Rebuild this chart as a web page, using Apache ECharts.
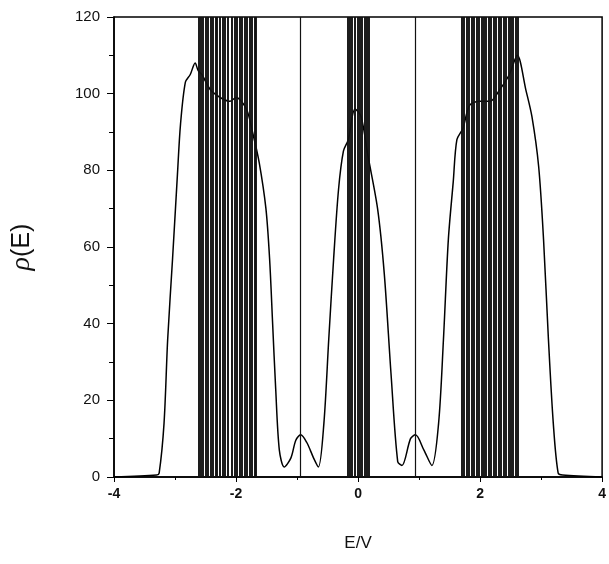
<!DOCTYPE html>
<html>
<head>
<meta charset="utf-8">
<script src="https://cdn.jsdelivr.net/npm/echarts@6/dist/echarts.min.js"></script>
<style>
  html, body { margin: 0; padding: 0; background: #fff; }
  #dos { width: 609px; height: 564px; }
</style>
</head>
<body>
<div id="dos"></div>
<script>
var dom = document.getElementById("dos");
var myChart = echarts.init(dom);

// density of states
var energy = [-4, -3.3, -3.26, -3.18, -3.12, -3.04, -2.96, -2.91, -2.83, -2.75, -2.67, -2.62, -2.56, -2.42, -2.26, -2.1, -2.0, -1.83, -1.73, -1.62, -1.51, -1.45, -1.40, -1.35, -1.29, -1.21, -1.1, -1.02, -0.94, -0.84, -0.73, -0.65, -0.56, -0.48, -0.40, -0.32, -0.24, -0.16, -0.05, 0.05, 0.16, 0.32, 0.43, 0.54, 0.65, 0.72, 0.86, 0.94, 1.08, 1.21, 1.32, 1.40, 1.48, 1.56, 1.62, 1.72, 1.83, 2.0, 2.16, 2.32, 2.48, 2.61, 2.75, 2.85, 2.96, 3.04, 3.12, 3.2, 3.28, 3.35, 4];
var rho = [0, 0.5, 1, 14, 36, 57, 79, 92, 103, 105, 108, 106, 105, 101, 99, 98, 99, 96, 90, 82, 70, 57, 40, 23, 7, 2.6, 5, 9.6, 11, 9, 5, 2.6, 14, 36, 57, 75, 85, 88, 96, 94, 84, 70, 53, 27, 4, 3, 10, 11, 7, 3, 14, 36, 62, 77, 88, 91, 97, 98, 98, 101, 105, 110, 101, 94, 81, 62, 36, 14, 1, 0.5, 0];

// eigenvalues drawn as vertical lines
var levelsLeft = [-2.61, -2.57, -2.54, -2.50, -2.47, -2.42, -2.38, -2.34, -2.31, -2.26, -2.22, -2.18, -2.13, -2.07, -2.02, -1.98, -1.94, -1.90, -1.86, -1.82, -1.78, -1.74, -1.70, -1.67];
var levelsMid = [-0.17, -0.13, -0.10, -0.05, -0.01, 0.03, 0.06, 0.11, 0.15, 0.18];
var levelsRight = [1.70, 1.73, 1.78, 1.82, 1.86, 1.89, 1.94, 1.98, 2.02, 2.06, 2.10, 2.14, 2.18, 2.22, 2.26, 2.31, 2.34, 2.38, 2.42, 2.47, 2.50, 2.54, 2.58, 2.61];
var levelsSingle = [-0.94, 0.93];

var xTicks = [-4, -2, 0, 2, 4];
var yTicks = [0, 20, 40, 60, 80, 100, 120];

var curve = energy.map(function (e, i) { return [e, rho[i]]; });
var levels = levelsLeft.concat(levelsMid, levelsRight).map(function (e) {
    return { xAxis: e };
});
levelsSingle.forEach(function (e) {
    levels.push({ xAxis: e, lineStyle: { width: 1.2 } });
});

var option = {
    animation: false,
    backgroundColor: '#fff',
    grid: {
        left: 113,
        right: 1,
        top: 17,
        bottom: 87,
        show: true,
        borderColor: '#000',
        borderWidth: 1.5
    },
    xAxis: {
        type: 'value',
        min: -4,
        max: 4,
        interval: 2,
        name: 'E/V',
        nameLocation: 'middle',
        nameGap: 58,
        nameTextStyle: { fontFamily: 'Liberation Sans', fontSize: 17, color: '#111' },
        axisLine: { show: true, onZero: false, lineStyle: { color: '#000', width: 1.5 } },
        axisTick: { show: true, inside: false, length: 5, lineStyle: { color: '#000' } },
        minorTick: { show: true, splitNumber: 2, length: 3, lineStyle: { color: '#000' } },
        splitLine: { show: false },
        axisLabel: {
            margin: 10,
            fontFamily: 'Liberation Sans',
            fontSize: 14,
            fontWeight: 'bold',
            color: '#111',
            formatter: function (v) { return xTicks.indexOf(v) >= 0 ? String(v) : ''; }
        }
    },
    yAxis: {
        type: 'value',
        min: 0,
        max: 120,
        interval: 20,
        name: '{i|ρ}(E)',
        nameLocation: 'middle',
        nameRotate: 90,
        nameGap: 78,
        nameTextStyle: {
            fontFamily: 'Liberation Sans',
            fontSize: 25,
            color: '#111',
            rich: { i: { fontFamily: 'Liberation Serif', fontStyle: 'italic', fontSize: 28, color: '#111' } }
        },
        axisLine: { show: true, onZero: false, lineStyle: { color: '#000', width: 1.5 } },
        axisTick: { show: true, inside: false, length: 7, lineStyle: { color: '#000' } },
        minorTick: { show: true, splitNumber: 2, length: 5, lineStyle: { color: '#000' } },
        splitLine: { show: false },
        axisLabel: {
            margin: 14,
            fontFamily: 'Liberation Sans',
            fontSize: 15,
            color: '#111',
            formatter: function (v) { return yTicks.indexOf(v) >= 0 ? String(v) : ''; }
        }
    },
    series: [{
        type: 'line',
        data: curve,
        showSymbol: false,
        symbol: 'none',
        smooth: 0.3,
        lineStyle: { color: '#000', width: 1.5 },
        markLine: {
            silent: true,
            symbol: ['none', 'none'],
            label: { show: false },
            lineStyle: { color: '#111', width: 1.9, type: 'solid' },
            emphasis: { disabled: true },
            data: levels
        },
        z: 3
    }]
};

if (option && typeof option === 'object') {
    myChart.setOption(option);
}
</script>
</body>
</html>
